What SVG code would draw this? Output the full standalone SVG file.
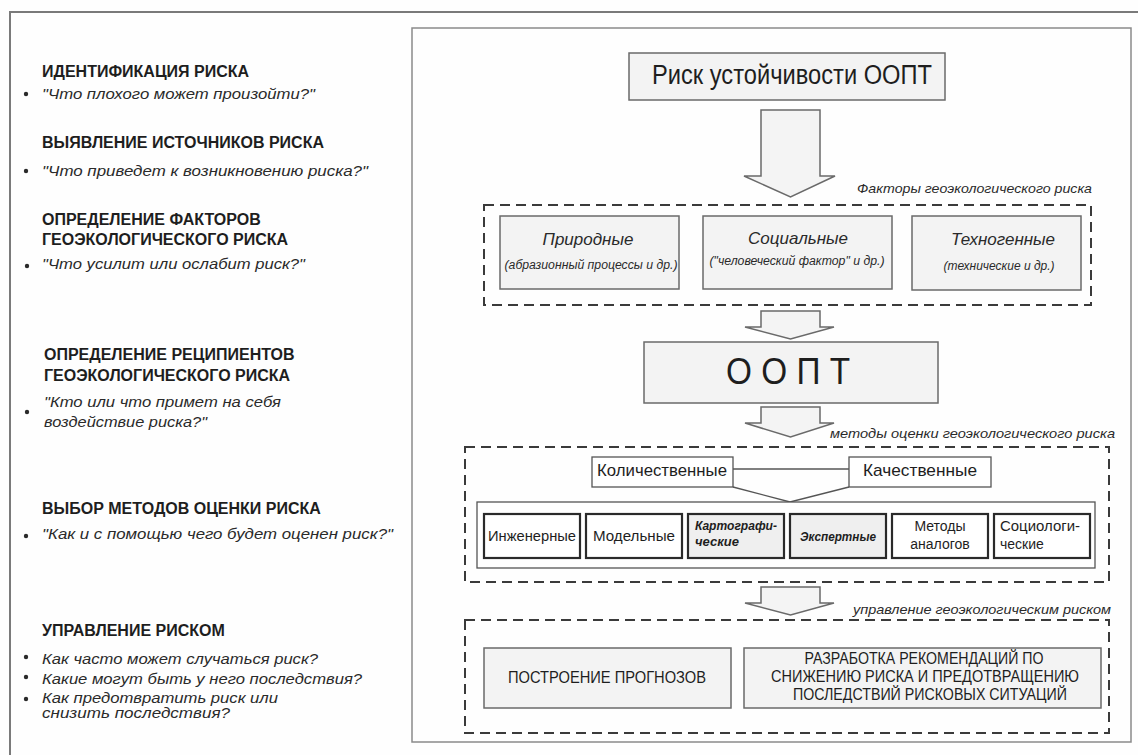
<svg xmlns="http://www.w3.org/2000/svg" width="1138" height="755" viewBox="0 0 1138 755">
<defs>
<style>
.frame{fill:none;stroke:#7a7a7a;stroke-width:2}
.inner{fill:none;stroke:#8a8a8a;stroke-width:1.5}
.box{fill:#f3f3f3;stroke:#6a6a6a;stroke-width:1.5}
.wbox{fill:#ffffff;stroke:#555;stroke-width:1.3}
.mbox{fill:#ffffff;stroke:#2a2a2a;stroke-width:2.2}
.mbox.g{fill:#efefef}
.dash{fill:none;stroke:#3a3a3a;stroke-width:2;stroke-dasharray:10 6}
.arrow{fill:#f4f4f4;stroke:#6a6a6a;stroke-width:1.5;stroke-linejoin:miter}
.line{fill:none;stroke:#555;stroke-width:1.3}
.h{font-family:"Liberation Sans",Arial,sans-serif;font-weight:bold;font-size:16px;fill:#1e1e1e}
.q{font-family:"Liberation Sans",Arial,sans-serif;font-style:italic;font-size:15px;fill:#2a2a2a}
.bul{fill:#2a2a2a}
.t{font-family:"Liberation Sans",Arial,sans-serif;fill:#1e1e1e}
.it{font-family:"Liberation Sans",Arial,sans-serif;font-style:italic;fill:#2a2a2a}
.c{text-anchor:middle}
</style>
</defs>
<rect width="1138" height="755" fill="#fefefe"/>
<path class="frame" d="M10,755 V12 H1138"/>
<rect class="inner" x="412" y="28" width="719" height="714"/>

<g id="left-panel">
<g id="step-identify">
<text class="h" x="42" y="77">ИДЕНТИФИКАЦИЯ РИСКА</text>
<circle class="bul" cx="26" cy="94" r="2.2"/>
<text class="q" x="42" y="99" textLength="273" lengthAdjust="spacingAndGlyphs">"Что плохого может произойти?"</text>
</g>
<g id="step-sources">
<text class="h" x="42" y="148">ВЫЯВЛЕНИЕ ИСТОЧНИКОВ РИСКА</text>
<circle class="bul" cx="26" cy="171" r="2.2"/>
<text class="q" x="42" y="176" textLength="326" lengthAdjust="spacingAndGlyphs">"Что приведет к возникновению риска?"</text>
</g>
<g id="step-factors">
<text class="h" x="42" y="225">ОПРЕДЕЛЕНИЕ ФАКТОРОВ</text>
<text class="h" x="42" y="245">ГЕОЭКОЛОГИЧЕСКОГО РИСКА</text>
<circle class="bul" cx="27" cy="266" r="2.2"/>
<text class="q" x="42" y="269" textLength="263" lengthAdjust="spacingAndGlyphs">"Что усилит или ослабит риск?"</text>
</g>
<g id="step-recipients">
<text class="h" x="44" y="360">ОПРЕДЕЛЕНИЕ РЕЦИПИЕНТОВ</text>
<text class="h" x="44" y="381">ГЕОЭКОЛОГИЧЕСКОГО РИСКА</text>
<circle class="bul" cx="27" cy="412" r="2.2"/>
<text class="q" x="44" y="407" textLength="237" lengthAdjust="spacingAndGlyphs">"Кто или что примет на себя</text>
<text class="q" x="44" y="427" textLength="163" lengthAdjust="spacingAndGlyphs">воздействие риска?"</text>
</g>
<g id="step-methods">
<text class="h" x="42" y="514">ВЫБОР МЕТОДОВ ОЦЕНКИ РИСКА</text>
<circle class="bul" cx="26" cy="536" r="2.2"/>
<text class="q" x="42" y="539" textLength="351" lengthAdjust="spacingAndGlyphs">"Как и с помощью чего будет оценен риск?"</text>
</g>
<g id="step-management">
<text class="h" x="42" y="636">УПРАВЛЕНИЕ РИСКОМ</text>
<circle class="bul" cx="26" cy="657" r="2.2"/>
<text class="q" x="42" y="664" textLength="276" lengthAdjust="spacingAndGlyphs">Как часто может случаться риск?</text>
<circle class="bul" cx="26" cy="677" r="2.2"/>
<text class="q" x="42" y="684" textLength="320" lengthAdjust="spacingAndGlyphs">Какие могут быть у него последствия?</text>
<circle class="bul" cx="26" cy="699" r="2.2"/>
<text class="q" x="42" y="703" textLength="236" lengthAdjust="spacingAndGlyphs">Как предотвратить риск или</text>
<text class="q" x="42" y="718" textLength="188" lengthAdjust="spacingAndGlyphs">снизить последствия?</text>
</g>
</g>

<g id="connectors">
<polygon class="arrow" points="761,110 820,110 820,176 835,176 790.5,197 744,176 761,176"/>
<polygon class="arrow" points="761,311 820,311 820,327 834,327 790.5,339 745,327 761,327"/>
<polygon class="arrow" points="761,407 820,407 820,423 834,423 790.5,437 745,423 761,423"/>
<polygon class="arrow" points="761,587 820,587 820,603 834,603 790.5,615 745,603 761,603"/>
<path class="line" d="M733,469 H849 M733,487 L790,502 L849,487"/>
</g>

<g id="title">
<rect class="box" x="629" y="53" width="316" height="47"/>
<text class="t" x="652" y="84" font-size="27" textLength="280" lengthAdjust="spacingAndGlyphs">Риск устойчивости ООПТ</text>
</g>

<g id="factors">
<text class="it" x="857" y="193" font-size="13" textLength="235" lengthAdjust="spacingAndGlyphs">Факторы геоэкологического риска</text>
<rect class="dash" x="484" y="205" width="607" height="100"/>
<g id="factor-natural">
<rect class="box" x="500" y="216" width="179" height="73"/>
<text class="it c" x="588" y="245" font-size="17">Природные</text>
<text class="it c" x="591" y="269" font-size="12" textLength="173" lengthAdjust="spacingAndGlyphs">(абразионный процессы и др.)</text>
</g>
<g id="factor-social">
<rect class="box" x="703" y="216" width="189" height="73"/>
<text class="it c" x="798" y="244" font-size="17">Социальные</text>
<text class="it c" x="797" y="265" font-size="12" textLength="175" lengthAdjust="spacingAndGlyphs">("человеческий фактор" и др.)</text>
</g>
<g id="factor-tech">
<rect class="box" x="912" y="216" width="169" height="74"/>
<text class="it c" x="1003" y="245" font-size="17">Техногенные</text>
<text class="it c" x="999" y="270" font-size="12">(технические и др.)</text>
</g>
</g>

<g id="oopt">
<rect class="box" x="644" y="342" width="294" height="61"/>
<text class="t c" x="788" y="384" font-size="36" textLength="124" lengthAdjust="spacingAndGlyphs">О О П Т</text>
</g>

<g id="methods">
<text class="it" x="830" y="438" font-size="13" textLength="285" lengthAdjust="spacingAndGlyphs">методы оценки геоэкологического риска</text>
<rect class="dash" x="465" y="447" width="644" height="135"/>
<g id="m-quant">
<rect class="wbox" x="592" y="457" width="141" height="30"/>
<text class="t c" x="662" y="476" font-size="17" textLength="130" lengthAdjust="spacingAndGlyphs">Количественные</text>
</g>
<g id="m-qual">
<rect class="wbox" x="849" y="457" width="142" height="30"/>
<text class="t c" x="920" y="476" font-size="17" textLength="114" lengthAdjust="spacingAndGlyphs">Качественные</text>
</g>
<rect class="wbox" x="477" y="502" width="618" height="66"/>
<g id="m-eng">
<rect class="mbox" x="484" y="514" width="96" height="44"/>
<text class="t c" x="532" y="541" font-size="14" textLength="88" lengthAdjust="spacingAndGlyphs">Инженерные</text>
</g>
<g id="m-model">
<rect class="mbox" x="586" y="514" width="96" height="44"/>
<text class="t c" x="634" y="541" font-size="14" textLength="82" lengthAdjust="spacingAndGlyphs">Модельные</text>
</g>
<g id="m-carto">
<rect class="mbox g" x="688" y="514" width="96" height="44"/>
<text class="t" x="695" y="530" font-size="13" font-weight="bold" font-style="italic" textLength="82" lengthAdjust="spacingAndGlyphs">Картографи-</text>
<text class="t" x="695" y="546" font-size="13" font-weight="bold" font-style="italic">ческие</text>
</g>
<g id="m-expert">
<rect class="mbox g" x="790" y="514" width="96" height="44"/>
<text class="t c" x="838" y="541" font-size="13" font-weight="bold" font-style="italic" textLength="76" lengthAdjust="spacingAndGlyphs">Экспертные</text>
</g>
<g id="m-analog">
<rect class="mbox" x="892" y="514" width="96" height="44"/>
<text class="t c" x="940" y="531" font-size="14">Методы</text>
<text class="t c" x="940" y="549" font-size="14">аналогов</text>
</g>
<g id="m-socio">
<rect class="mbox" x="994" y="514" width="96" height="44"/>
<text class="t" x="1000" y="531" font-size="14" textLength="80" lengthAdjust="spacingAndGlyphs">Социологи-</text>
<text class="t" x="1000" y="549" font-size="14">ческие</text>
</g>
</g>

<g id="management">
<text class="it" x="853" y="614" font-size="13" textLength="258" lengthAdjust="spacingAndGlyphs">управление геоэкологическим риском</text>
<rect class="dash" x="465" y="620" width="644" height="113"/>
<g id="forecast">
<rect class="box" x="484" y="648" width="247" height="60"/>
<text class="t c" x="607" y="683" font-size="16" textLength="198" lengthAdjust="spacingAndGlyphs">ПОСТРОЕНИЕ ПРОГНОЗОВ</text>
</g>
<g id="recommend">
<rect class="box" x="744" y="648" width="357" height="60"/>
<text class="t c" x="924" y="664" font-size="16" textLength="239" lengthAdjust="spacingAndGlyphs">РАЗРАБОТКА РЕКОМЕНДАЦИЙ ПО</text>
<text class="t c" x="925" y="682" font-size="16" textLength="308" lengthAdjust="spacingAndGlyphs">СНИЖЕНИЮ РИСКА И ПРЕДОТВРАЩЕНИЮ</text>
<text class="t c" x="930" y="700" font-size="16" textLength="274" lengthAdjust="spacingAndGlyphs">ПОСЛЕДСТВИЙ РИСКОВЫХ СИТУАЦИЙ</text>
</g>
</g>
</svg>
